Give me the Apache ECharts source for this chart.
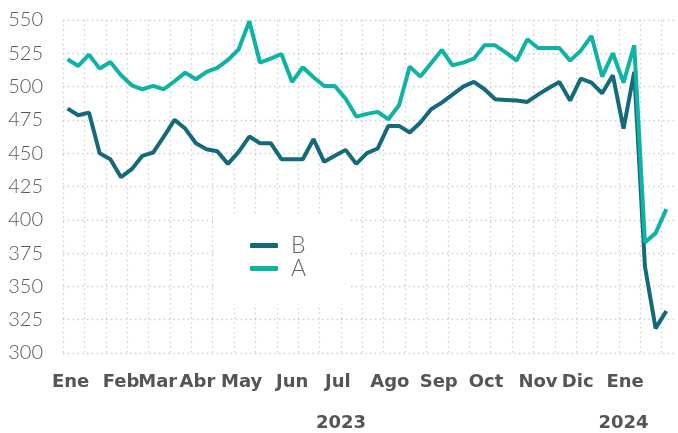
<!DOCTYPE html>
<html>
<head>
<meta charset="utf-8">
<script src="https://cdn.jsdelivr.net/npm/echarts@6/dist/echarts.min.js"></script>
<style>html,body{margin:0;padding:0;background:#fff;}#chart{width:678px;height:433px;}</style>
</head>
<body>
<div id="chart"></div>
<script>
// ---- Data ----
const dates = [
  '2023-01-02','2023-01-09','2023-01-16','2023-01-23','2023-01-30',
  '2023-02-06','2023-02-13','2023-02-20','2023-02-27',
  '2023-03-06','2023-03-13','2023-03-20','2023-03-27',
  '2023-04-03','2023-04-10','2023-04-17','2023-04-24',
  '2023-05-01','2023-05-08','2023-05-15','2023-05-22','2023-05-29',
  '2023-06-05','2023-06-12','2023-06-19','2023-06-26',
  '2023-07-03','2023-07-10','2023-07-17','2023-07-24','2023-07-31',
  '2023-08-07','2023-08-14','2023-08-21','2023-08-28',
  '2023-09-04','2023-09-11','2023-09-18','2023-09-25',
  '2023-10-02','2023-10-09','2023-10-16','2023-10-23','2023-10-30',
  '2023-11-06','2023-11-13','2023-11-20','2023-11-27',
  '2023-12-04','2023-12-11','2023-12-18','2023-12-25',
  '2024-01-01','2024-01-08','2024-01-15','2024-01-22','2024-01-29'
];
const seriesA = [
  520.5, 515.5, 524, 513.5, 518.5,
  508.5, 501, 498, 500.5,
  498, 504, 510.5, 505.5,
  511, 514, 520, 528,
  549, 518, 521, 524.5, 503.5,
  514.5, 507, 500.5, 500.5,
  491, 477.5, 479.5, 481, 475.5,
  486, 515, 507.5, 517.5,
  527.5, 516, 518, 521,
  531, 531, 525.5, 519.5, 535.5,
  529, 529, 529, 519.5,
  527, 538, 507.5, 525,
  503, 531, 383, 390, 408
];
const seriesB = [
  483.5, 478.5, 480.5, 450, 445.5,
  432, 438, 448, 450.5,
  462.5, 475, 468.5, 457.5,
  453, 451.5, 442, 451,
  462.5, 457.5, 457.5, 445.5, 445.5,
  445.5, 460.5, 443.5, 448,
  452.5, 442, 450, 453.5, 470.5,
  470.5, 465.5, 473, 483,
  488, 494, 500, 503.5,
  498, 490.5, 490, 489.5, 488.5,
  494, 499, 503.5, 489.5,
  506, 503, 495, 508.5,
  468.5, 511, 365, 318.5, 331.5
];
const monthLabels = ['Ene','Feb','Mar','Abr','May','Jun','Jul','Ago','Sep','Oct','Nov','Dic','Ene'];
const monthLabelDates = ['2023-01-04','2023-02-06','2023-03-02','2023-03-28','2023-04-26','2023-05-29',
  '2023-06-28','2023-08-01','2023-09-02','2023-10-03','2023-11-06','2023-12-02','2024-01-02'];
const yearLabels = ['2023','2024'];
const yearLabelDates = ['2023-06-30','2024-01-01'];
const xMin = '2022-12-30';
const xMax = '2024-02-05';
const yMin = 300, yMax = 550, yStep = 25;

// ---- helpers ----
const DAY = 86400000;
function toTime(s) { const p = s.split('-'); return Date.UTC(+p[0], +p[1] - 1, +p[2]); }
function lookup(value, dateList, labels) {
  let best = -1, bd = Infinity;
  dateList.forEach((d, i) => { const dd = Math.abs(toTime(d) - value); if (dd < bd) { bd = dd; best = i; } });
  return bd < DAY / 2 ? labels[best] : '';
}
// vertical grid lines every two weeks
const gridTimes = [];
for (let t = toTime(xMin); t <= toTime(xMax); t += 14 * DAY) gridTimes.push(t);

const dotted = { color: '#c8c8c8', width: 1.3, type: [1.3, 3.5] };
const BOLD = 'DejaVu Sans';
const LIGHT = 'Lato';

const chart = echarts.init(document.getElementById('chart'), null, { renderer: 'canvas' });
chart.setOption({
  animation: false,
  backgroundColor: '#fff',
  grid: { left: 63, right: 1, top: 20, bottom: 80, containLabel: false },
  legend: {
    data: ['B', 'A'],
    orient: 'vertical',
    left: 214, top: 214,
    backgroundColor: '#fff',
    padding: [20, 44, 24, 36],
    icon: 'roundRect',
    itemWidth: 28, itemHeight: 5, itemGap: 0,
    textStyle: { fontFamily: LIGHT, fontWeight: 300, fontSize: 23, color: '#666', lineHeight: 21, padding: [0, 0, 0, 8] }
  },
  xAxis: [
    {
      type: 'value', min: toTime(xMin), max: toTime(xMax),
      axisLine: { show: false }, axisTick: { show: false, customValues: gridTimes },
      splitLine: { show: true, lineStyle: dotted },
      axisLabel: {
        customValues: monthLabelDates.map(toTime), hideOverlap: false, margin: 20,
        fontFamily: BOLD, fontWeight: 'bold', fontSize: 18, color: '#555',
        formatter: v => lookup(v, monthLabelDates, monthLabels)
      }
    },
    {
      type: 'value', min: toTime(xMin), max: toTime(xMax), position: 'bottom',
      axisLine: { show: false }, axisTick: { show: false }, splitLine: { show: false },
      axisLabel: {
        customValues: yearLabelDates.map(toTime), hideOverlap: false, margin: 61,
        fontFamily: BOLD, fontWeight: 'bold', fontSize: 18, color: '#555',
        formatter: v => lookup(v, yearLabelDates, yearLabels)
      }
    }
  ],
  yAxis: {
    type: 'value', min: yMin, max: yMax, interval: yStep,
    axisLine: { show: false }, axisTick: { show: false },
    splitLine: { show: true, lineStyle: dotted },
    axisLabel: { margin: 20, fontFamily: LIGHT, fontWeight: 300, fontSize: 20, color: '#5a5a5a' }
  },
  series: [
    {
      name: 'B', type: 'line', xAxisIndex: 0, showSymbol: false, symbol: 'none',
      data: dates.map((d, i) => [toTime(d), seriesB[i]]),
      itemStyle: { color: '#14697a' },
      lineStyle: { color: '#14697a', width: 4 }
    },
    {
      name: 'A', type: 'line', xAxisIndex: 0, showSymbol: false, symbol: 'none',
      data: dates.map((d, i) => [toTime(d), seriesA[i]]),
      itemStyle: { color: '#0db3a5' },
      lineStyle: { color: '#0db3a5', width: 4 }
    }
  ]
});
</script>
</body>
</html>
